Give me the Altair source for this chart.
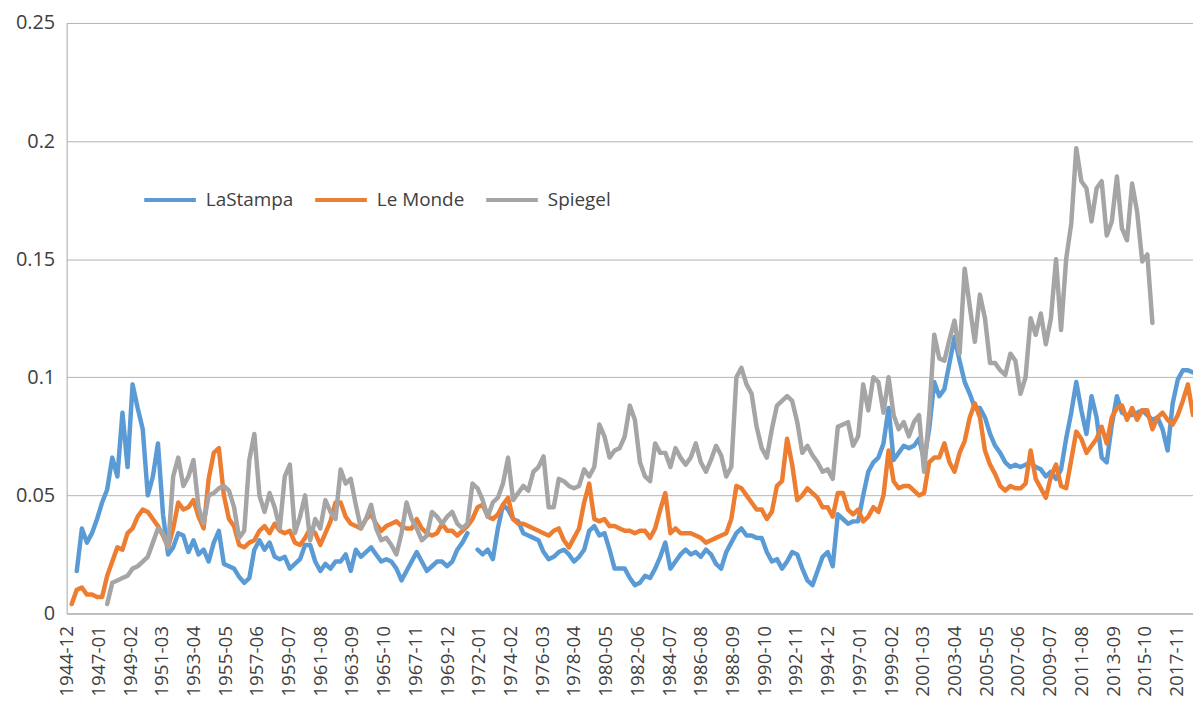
import altair as alt
import pandas as pd

# Monthly series sampled every 4 months starting 1944-12
START_YEAR, START_MONTH, STEP = 1944, 12, 4
series_names = ["LaStampa", "Le Monde", "Spiegel"]
series_colors = ["#5B9BD5", "#ED7D31", "#A5A5A5"]

lastampa = [
    None, None, 0.018, 0.036, 0.030, 0.034, 0.040, 0.047, 0.0525, 0.066,
    0.058, 0.085, 0.062, 0.097, 0.087, 0.078, 0.050, 0.058, 0.072, 0.042,
    0.025, 0.028, 0.034, 0.033, 0.026, 0.031, 0.025, 0.027, 0.022, 0.030,
    0.035, 0.021, 0.020, 0.019, 0.0155, 0.013, 0.015, 0.027, 0.031, 0.027,
    0.030, 0.024, 0.023, 0.024, 0.019, 0.021, 0.023, 0.029, 0.029, 0.022,
    0.018, 0.021, 0.019, 0.022, 0.022, 0.025, 0.018, 0.027, 0.024, 0.026,
    0.028, 0.025, 0.022, 0.023, 0.022, 0.019, 0.014, 0.018, 0.022, 0.026,
    0.022, 0.018, 0.020, 0.022, 0.022, 0.020, 0.022, 0.027, 0.030, 0.034,
    None, 0.027, 0.025, 0.027, 0.023, 0.036, 0.046, 0.044, 0.040, 0.039,
    0.034, 0.033, 0.032, 0.031, 0.026, 0.023, 0.024, 0.026, 0.027, 0.025,
    0.022, 0.024, 0.027, 0.035, 0.037, 0.033, 0.034, 0.027, 0.019, 0.019,
    0.019, 0.015, 0.012, 0.013, 0.016, 0.015, 0.019, 0.024, 0.030, 0.019,
    0.022, 0.025, 0.027, 0.025, 0.026, 0.024, 0.027, 0.025, 0.021, 0.019,
    0.026, 0.030, 0.034, 0.036, 0.033, 0.033, 0.032, 0.032, 0.026, 0.022,
    0.023, 0.019, 0.022, 0.026, 0.025, 0.019, 0.014, 0.012, 0.018, 0.024,
    0.026, 0.020, 0.042, 0.040, 0.038, 0.039, 0.039, 0.050, 0.060, 0.064,
    0.066, 0.072, 0.087, 0.065, 0.068, 0.071, 0.070, 0.071, 0.074, 0.065,
    0.078, 0.098, 0.092, 0.095, 0.106, 0.117, 0.107, 0.098, 0.093, 0.087,
    0.087, 0.083, 0.076, 0.071, 0.068, 0.064, 0.062, 0.063, 0.062, 0.063,
    0.064, 0.062, 0.061, 0.058, 0.060, 0.057, 0.061, 0.074, 0.085, 0.098,
    0.086, 0.076, 0.092, 0.083, 0.066, 0.064, 0.080, 0.092, 0.085, 0.084,
    0.084, 0.085, 0.086, 0.084, 0.082, 0.083, 0.078, 0.069, 0.089, 0.099,
    0.103, 0.103, 0.102,
]

lemonde = [
    None, 0.004, 0.010, 0.011, 0.008, 0.008, 0.007, 0.007, 0.016, 0.022,
    0.028, 0.027, 0.034, 0.036, 0.041, 0.044, 0.043, 0.040, 0.037, 0.033,
    0.028, 0.036, 0.047, 0.044, 0.045, 0.048, 0.041, 0.036, 0.057, 0.068,
    0.070, 0.050, 0.040, 0.037, 0.029, 0.028, 0.030, 0.031, 0.035, 0.037,
    0.034, 0.038, 0.035, 0.034, 0.035, 0.030, 0.029, 0.032, 0.036, 0.034,
    0.029, 0.034, 0.039, 0.047, 0.047, 0.041, 0.038, 0.037, 0.036, 0.040,
    0.042, 0.038, 0.035, 0.037, 0.038, 0.039, 0.037, 0.036, 0.036, 0.040,
    0.036, 0.034, 0.033, 0.034, 0.038, 0.035, 0.035, 0.033, 0.035, 0.037,
    0.040, 0.045, 0.046, 0.041, 0.040, 0.042, 0.046, 0.049, 0.040, 0.038,
    0.038, 0.037, 0.036, 0.035, 0.034, 0.033, 0.035, 0.036, 0.031, 0.028,
    0.032, 0.036, 0.047, 0.055, 0.040, 0.039, 0.040, 0.037, 0.037, 0.036,
    0.035, 0.035, 0.034, 0.035, 0.035, 0.032, 0.036, 0.044, 0.051, 0.034,
    0.036, 0.034, 0.034, 0.034, 0.033, 0.032, 0.030, 0.031, 0.032, 0.033,
    0.034, 0.040, 0.054, 0.053, 0.050, 0.047, 0.044, 0.044, 0.040, 0.043,
    0.054, 0.056, 0.074, 0.063, 0.048, 0.050, 0.053, 0.051, 0.049, 0.045,
    0.045, 0.041, 0.051, 0.051, 0.044, 0.042, 0.044, 0.039, 0.041, 0.045,
    0.043, 0.050, 0.069, 0.056, 0.053, 0.054, 0.054, 0.052, 0.050, 0.051,
    0.064, 0.066, 0.066, 0.072, 0.064, 0.060, 0.068, 0.073, 0.083, 0.089,
    0.083, 0.069, 0.063, 0.059, 0.054, 0.052, 0.054, 0.053, 0.053, 0.055,
    0.069, 0.057, 0.053, 0.049, 0.058, 0.063, 0.054, 0.053, 0.065, 0.077,
    0.074, 0.068, 0.071, 0.074, 0.079, 0.072, 0.083, 0.087, 0.088, 0.082,
    0.087, 0.082, 0.086, 0.086, 0.078, 0.083, 0.085, 0.082, 0.080, 0.084,
    0.090, 0.097, 0.084,
]

spiegel = [
    None, None, None, None, None, None, None, None, 0.004, 0.013,
    0.014, 0.015, 0.016, 0.019, 0.020, 0.022, 0.024, 0.030, 0.036, 0.034,
    0.028, 0.058, 0.066, 0.054, 0.058, 0.065, 0.045, 0.038, 0.050, 0.051,
    0.053, 0.054, 0.052, 0.045, 0.032, 0.035, 0.065, 0.076, 0.050, 0.043,
    0.051, 0.045, 0.036, 0.058, 0.063, 0.034, 0.041, 0.050, 0.031, 0.040,
    0.036, 0.048, 0.043, 0.040, 0.061, 0.055, 0.057, 0.046, 0.036, 0.040,
    0.046, 0.036, 0.031, 0.032, 0.029, 0.025, 0.034, 0.047, 0.040, 0.036,
    0.031, 0.033, 0.043, 0.041, 0.038, 0.041, 0.043, 0.038, 0.036, 0.038,
    0.055, 0.053, 0.048, 0.041, 0.047, 0.049, 0.055, 0.066, 0.048, 0.051,
    0.054, 0.052, 0.060, 0.062, 0.0665, 0.045, 0.045, 0.057, 0.056, 0.054,
    0.053, 0.054, 0.061, 0.058, 0.062, 0.080, 0.075, 0.066, 0.069, 0.070,
    0.075, 0.088, 0.082, 0.064, 0.058, 0.056, 0.072, 0.068, 0.068, 0.062,
    0.070, 0.066, 0.063, 0.066, 0.072, 0.064, 0.060, 0.065, 0.071, 0.067,
    0.058, 0.062, 0.100, 0.104, 0.097, 0.093, 0.079, 0.070, 0.066, 0.078,
    0.088, 0.090, 0.092, 0.090, 0.081, 0.068, 0.071, 0.067, 0.064, 0.060,
    0.061, 0.057, 0.079, 0.080, 0.081, 0.071, 0.075, 0.097, 0.086, 0.100,
    0.098, 0.085, 0.100, 0.084, 0.078, 0.081, 0.075, 0.081, 0.084, 0.060,
    0.084, 0.118, 0.108, 0.107, 0.116, 0.124, 0.110, 0.146, 0.130, 0.115,
    0.135, 0.125, 0.106, 0.106, 0.103, 0.101, 0.110, 0.107, 0.093, 0.100,
    0.125, 0.118, 0.127, 0.114, 0.125, 0.150, 0.120, 0.150, 0.165, 0.197,
    0.183, 0.180, 0.166, 0.180, 0.183, 0.160, 0.166, 0.185, 0.163, 0.158,
    0.182, 0.170, 0.149, 0.152, 0.123, None, None, None, None, None,
    None, None, None,
]

tick_labels = [
    "1944-12", "1947-01", "1949-02", "1951-03", "1953-04", "1955-05",
    "1957-06", "1959-07", "1961-08", "1963-09", "1965-10", "1967-11",
    "1969-12", "1972-01", "1974-02", "1976-03", "1978-04", "1980-05",
    "1982-06", "1984-07", "1986-08", "1988-09", "1990-10", "1992-11",
    "1994-12", "1997-01", "1999-02", "2001-03", "2003-04", "2005-05",
    "2007-06", "2009-07", "2011-08", "2013-09", "2015-10", "2017-11",
]
y_ticks = [0, 0.05, 0.1, 0.15, 0.2, 0.25]


def month_date(k):
    total = START_YEAR * 12 + (START_MONTH - 1) + k
    return f"{total // 12:04d}-{total % 12 + 1:02d}-01"


rows = []
seg = 0
for name, vals in zip(series_names, [lastampa, lemonde, spiegel]):
    seg += 1
    for i, v in enumerate(vals):
        if v is None:
            seg += 1
            continue
        rows.append({"date": month_date(i * STEP), "series": name, "value": v, "seg": seg})
df = pd.DataFrame(rows)

tick_values = [
    alt.DateTime(year=int(t[:4]), month=int(t[5:]), date=1, utc=True) for t in tick_labels
]

FONT = "Open Sans"
TEXT = "#404040"

chart = (
    alt.Chart(df)
    .mark_line(strokeWidth=4.5, strokeJoin="round", strokeCap="round")
    .encode(
        x=alt.X(
            "date:T",
            scale=alt.Scale(
                type="utc",
                domain=[
                    alt.DateTime(year=1944, month=12, date=1, utc=True),
                    alt.DateTime(year=2018, month=12, date=1, utc=True),
                ],
            ),
            axis=alt.Axis(
                values=tick_values,
                format="%Y-%m",
                labelAngle=-90,
                labelFontSize=19,
                labelPadding=12,
                grid=False,
                ticks=False,
                title=None,
                labelOverlap=False,
            ),
        ),
        y=alt.Y(
            "value:Q",
            scale=alt.Scale(domain=[0, 0.25], nice=False),
            axis=alt.Axis(
                values=y_ticks,
                format=".2~f",
                labelFontSize=20,
                labelPadding=12,
                ticks=False,
                title=None,
            ),
        ),
        color=alt.Color(
            "series:N",
            scale=alt.Scale(domain=series_names, range=series_colors),
            legend=alt.Legend(
                orient="none",
                legendX=76,
                legendY=150,
                direction="horizontal",
                title=None,
                symbolType="stroke",
                symbolSize=2700,
                symbolStrokeWidth=4,
                labelFontSize=19,
                labelFont=FONT,
                labelColor=TEXT,
                labelOffset=8,
                columnPadding=14,
            ),
        ),
        detail="seg:N",
        order=alt.Order("date:T"),
    )
    .properties(
        width=1133,
        height=594,
        autosize=alt.AutoSizeParams(type="none"),
        padding={"left": 59, "top": 13, "right": 0, "bottom": 90},
    )
    .configure_view(stroke=None)
    .configure_axis(
        labelFont=FONT,
        labelColor=TEXT,
        domainColor="#a6a6a6",
        gridColor="#b3b3b3",
        gridWidth=1,
        domainWidth=1,
    )
)

chart.save("out.html", embed_options={"renderer": "svg", "actions": False})
